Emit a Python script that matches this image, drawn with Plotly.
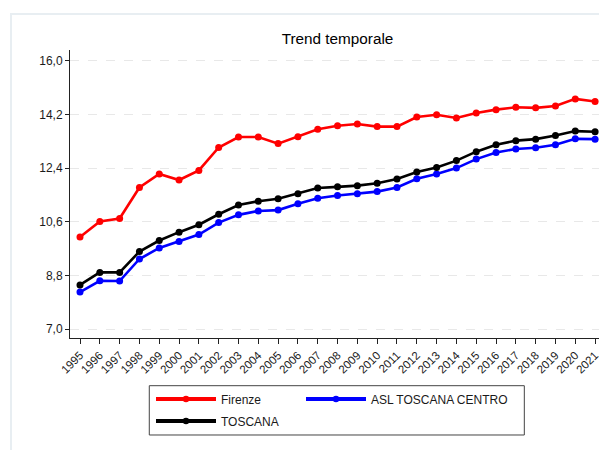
import plotly.graph_objects as go

years = list(range(1995, 2022))

firenze = [10.09, 10.61, 10.71, 11.75, 12.20, 12.00, 12.32, 13.09, 13.44, 13.44,
           13.22, 13.45, 13.70, 13.82, 13.88, 13.79, 13.79, 14.11, 14.19, 14.08,
           14.25, 14.36, 14.44, 14.42, 14.48, 14.72, 14.63]
asl = [8.24, 8.62, 8.61, 9.35, 9.72, 9.94, 10.17, 10.57, 10.83, 10.96,
       10.99, 11.20, 11.39, 11.48, 11.54, 11.61, 11.75, 12.04, 12.20, 12.40,
       12.70, 12.92, 13.04, 13.08, 13.18, 13.38, 13.37]
toscana = [8.48, 8.90, 8.90, 9.60, 9.97, 10.25, 10.50, 10.85, 11.16, 11.29,
           11.37, 11.54, 11.73, 11.77, 11.81, 11.89, 12.03, 12.27, 12.42, 12.65,
           12.95, 13.18, 13.32, 13.37, 13.49, 13.64, 13.62]

y_tick_vals = [7.0, 8.8, 10.6, 12.4, 14.2, 16.0]
y_tick_text = ["7,0", "8,8", "10,6", "12,4", "14,2", "16,0"]
x_tick_text = [str(y) for y in years]

series_names = ["Firenze", "ASL TOSCANA CENTRO", "TOSCANA"]
series_colors = ["#ff0000", "#0000ff", "#000000"]
series_legends = ["legend", "legend3", "legend2"]

FONT = "Liberation Sans, Arial, sans-serif"

# page body adds an 8px offset; the layout below compensates for it
OFF = 8
L, T = 70 - OFF, 50 - OFF
PW, PH = 535, 288.3
W, H = 607, 450
R = W - L - PW
B = H - T - PH

fig = go.Figure()
for name, vals, col in zip(series_names, [firenze, asl, toscana], series_colors):
    fig.add_trace(go.Scatter(
        x=years, y=vals, name=name, mode="lines+markers",
        line=dict(color=col, width=2.6),
        marker=dict(color=col, size=7),
        showlegend=False,
    ))
# legend keys (thicker line, smaller dot, as in the original legend)
for name, col, lg in zip(series_names, series_colors, series_legends):
    fig.add_trace(go.Scatter(
        x=[None], y=[None], name=name, mode="lines+markers",
        line=dict(color=col, width=4),
        marker=dict(color=col, size=6.5),
        legend=lg, showlegend=True, hoverinfo="skip",
    ))

# Stata-like outer frame and legend box
fig.add_shape(type="rect", xref="paper", yref="paper",
              x0=-0.1103, x1=1.05, y0=-0.45, y1=1.1249,
              line=dict(color="rgb(232,238,242)", width=2), layer="below")
fig.add_shape(type="rect", xref="paper", yref="paper",
              x0=0.1482, x1=0.8492, y0=-0.3368, y1=-0.1656,
              line=dict(color="#444444", width=1))


def legend_box(x_px, y_paper):
    return dict(orientation="h", x=(x_px - 70) / 535, xanchor="left",
                y=y_paper, yanchor="middle", itemwidth=60,
                bgcolor="rgba(0,0,0,0)", borderwidth=0,
                font=dict(family=FONT, size=12, color="#1a1a1a"))


fig.update_layout(
    width=W, height=H,
    margin=dict(l=L, r=R, t=T, b=B, autoexpand=False),
    paper_bgcolor="white", plot_bgcolor="white",
    font=dict(family=FONT, size=12, color="#1a1a1a"),
    title=dict(text="Trend temporale", x=0.5, xref="paper", xanchor="center",
               y=1 - (38.3 - OFF) / H, yanchor="middle",
               font=dict(family=FONT, size=15.3, color="#000000")),
    legend=legend_box(151, -0.2118),
    legend3=legend_box(301, -0.2118),
    legend2=legend_box(151, -0.2882),
    showlegend=True,
)

fig.update_xaxes(
    range=[1994.495, 2021.5], tickmode="array", tickvals=years, ticktext=x_tick_text,
    tickangle=-45, ticks="outside", ticklen=5, tickwidth=1, tickcolor="#222222",
    showline=True, linecolor="#222222", linewidth=1, showgrid=False, zeroline=False,
    tickfont=dict(family=FONT, size=11.5, color="#1a1a1a"),
)
fig.update_yaxes(
    range=[6.70, 16.36], tickmode="array", tickvals=y_tick_vals, ticktext=y_tick_text,
    ticks="outside", ticklen=4, tickwidth=1, tickcolor="#222222",
    showline=True, linecolor="#222222", linewidth=1,
    showgrid=True, gridcolor="#e8e8e8", griddash="dash", gridwidth=1, zeroline=False,
    tickfont=dict(family=FONT, size=12, color="#1a1a1a"),
)

fig.write_html("out.html")
